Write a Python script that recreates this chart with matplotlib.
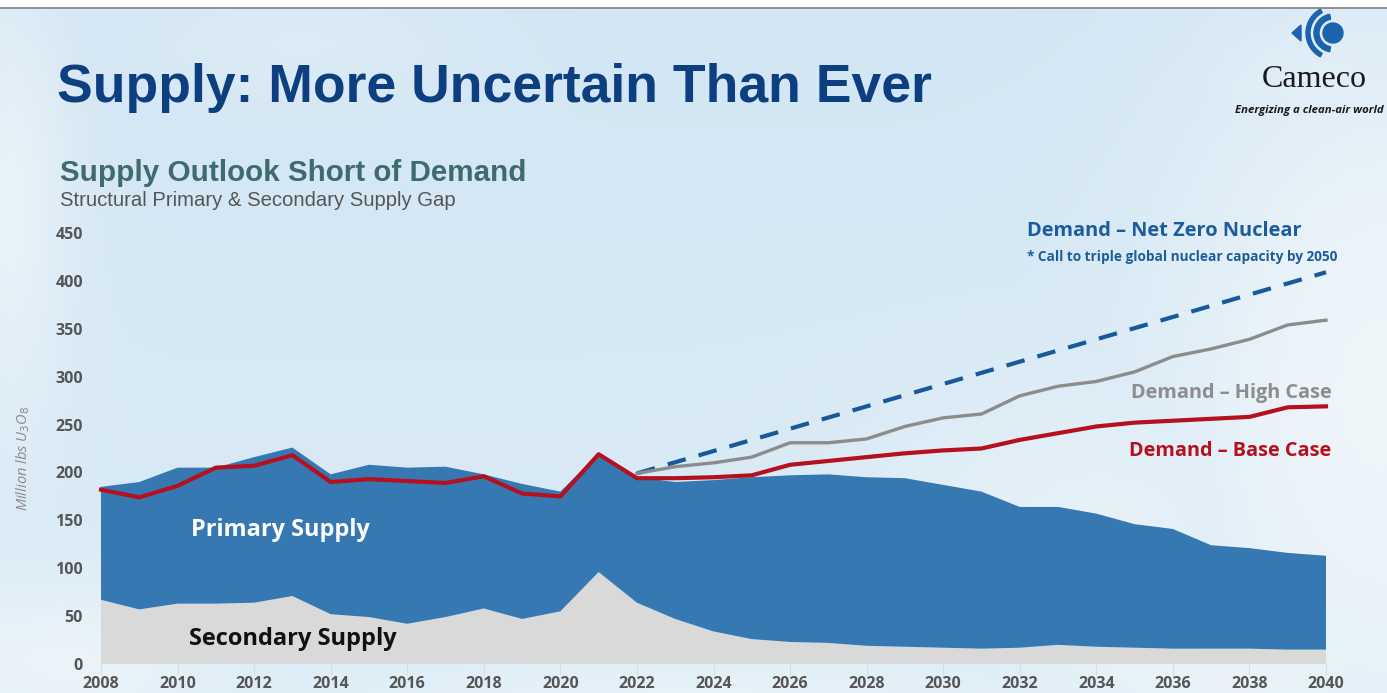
import numpy as np
import matplotlib
matplotlib.use('Agg')
import matplotlib.pyplot as plt
from matplotlib.patches import Circle, Wedge, Polygon, Rectangle

# Uranium market balance, million lbs U3O8
years = list(range(2008, 2041))
secondary_supply = [67, 57, 63, 63, 64, 71, 52, 49, 42, 49, 58, 47, 55, 96, 64, 47, 34,
                    26, 23, 22, 19, 18, 17, 16, 17, 20, 18, 17, 16, 16, 16, 15, 15]
primary_supply = [118, 133, 142, 142, 152, 155, 146, 159, 163, 157, 140, 141, 125, 124, 131, 143, 158,
                  169, 174, 176, 176, 176, 170, 164, 147, 144, 139, 129, 125, 108, 105, 101, 98]
demand_base = [182, 174, 186, 205, 207, 218, 190, 193, 191, 189, 196, 178, 175, 219, 194, 194, 195,
               197, 208, 212, 216, 220, 223, 225, 234, 241, 248, 252, 254, 256, 258, 268, 269]

high_years = list(range(2022, 2041))
demand_high = [199, 206, 210, 216, 231, 231, 235, 248, 257, 261, 280, 290, 295, 305, 321, 329, 339, 354, 359]

netzero_years = [2022, 2040]
demand_netzero = [199, 409]

x_ticks = list(range(2008, 2041, 2))
y_ticks = list(range(0, 451, 50))

W, H = 1387, 693
fig = plt.figure(figsize=(W / 100, H / 100), dpi=100)

# sky backdrop
bg = fig.add_axes([0, 0, 1, 1], zorder=0)
bg.set_xlim(0, W)
bg.set_ylim(H, 0)
bg.axis('off')

yy, xx = np.mgrid[0:H, 0:W]
top = np.array([0.825, 0.902, 0.955])
bottom = np.array([0.860, 0.925, 0.965])
t = (yy / H)[..., None]
img = top * (1 - t) + bottom * t
haze = np.zeros((H, W))
for cx, cy, sx, sy, a in [(1380, 380, 150, 260, 0.8), (1230, 640, 160, 90, 0.6),
                          (1100, 520, 160, 110, 0.45), (10, 200, 45, 160, 0.6),
                          (60, 660, 120, 60, 0.6), (700, 700, 260, 40, 0.45),
                          (1330, 90, 110, 70, 0.45), (300, 40, 120, 50, 0.25)]:
    haze = np.maximum(haze, a * np.exp(-((xx - cx) ** 2 / (2 * sx ** 2) + (yy - cy) ** 2 / (2 * sy ** 2))))
img = img * (1 - haze[..., None]) + np.array([0.96, 0.975, 0.985]) * haze[..., None]
bg.imshow(img, extent=(0, W, H, 0), aspect='auto', zorder=0)

# header strip
bg.add_patch(Rectangle((0, 0), W, 8, color='white', zorder=1))
bg.plot([0, W], [8, 8], color='#7a7a7a', lw=1.2, zorder=2)

bg.text(57, 102, 'Supply: More Uncertain Than Ever', family='Liberation Sans', weight='bold',
        fontsize=38.5, color='#0d3f80', va='baseline', ha='left')
bg.text(60, 181, 'Supply Outlook Short of Demand', family='Liberation Sans', weight='bold',
        fontsize=21.3, color='#3f6a6e', va='baseline', ha='left')
bg.text(60, 206, 'Structural Primary & Secondary Supply Gap', family='Liberation Sans',
        fontsize=14.6, color='#555555', va='baseline', ha='left')

# company mark
logo_blue = '#1b64ad'
bg.add_patch(Circle((1333, 33), 10, color=logo_blue, zorder=3))
bg.add_patch(Wedge((1333, 33), 19, 100, 260, width=5, color=logo_blue, zorder=3))
bg.add_patch(Wedge((1333, 33), 27, 118, 242, width=4, color=logo_blue, zorder=3))
bg.add_patch(Polygon([[1292, 33], [1301, 25], [1301, 41]], closed=True, color=logo_blue, zorder=3))
bg.text(1314, 87, 'Cameco', family='Liberation Serif', fontsize=23, color='#1a1a1a',
        ha='center', va='baseline')
bg.text(1235, 113, 'Energizing a clean-air world', family='Open Sans', weight='bold',
        style='italic', fontsize=8.2, color='#1a1a1a', ha='left', va='baseline')

# chart area
ax = fig.add_axes([101 / W, (H - 664) / H, (1326 - 101) / W, (664 - 233) / H], zorder=1)
ax.set_facecolor('none')
ax.set_xlim(2008, 2040)
ax.set_ylim(0, 450)

ax.stackplot(years, secondary_supply, primary_supply, colors=['#d9d9d9', '#3679b2'],
             linewidth=0, zorder=2)
ax.plot(netzero_years, demand_netzero, color='#17599a', lw=3, dashes=(4.5, 3.2),
        solid_capstyle='butt', zorder=3, clip_on=False)
ax.plot(high_years, demand_high, color='#8c8c8c', lw=2.4, zorder=4, clip_on=False)
ax.plot(years, demand_base, color='#b5101e', lw=3, zorder=5, clip_on=False)

for s in ax.spines.values():
    s.set_visible(False)
ax.set_xticks(x_ticks)
ax.set_yticks(y_ticks)
ax.tick_params(axis='y', length=0, pad=13)
ax.tick_params(axis='x', length=8, width=0.8, color='#d3dde4', pad=1)
for lab in ax.get_xticklabels() + ax.get_yticklabels():
    lab.set_family('Open Sans')
    lab.set_weight('bold')
    lab.set_fontsize(11.5)
    lab.set_color('#555555')

ax.set_ylabel('Million lbs U$_3$O$_8$', family=['Open Sans', 'DejaVu Sans'], style='italic',
              fontsize=10.5, color='#8a8a8a')
ax.yaxis.set_label_coords(-0.0563, 0.478)

label_font = dict(family='Open Sans', weight='bold')
ax.text(2012.7, 133.5, 'Primary Supply', color='white', fontsize=16.9, ha='center',
        va='baseline', zorder=6, **label_font)
ax.text(2013.0, 20, 'Secondary Supply', color='#111111', fontsize=17, ha='center',
        va='baseline', zorder=6, **label_font)
ax.text(2032.2, 447, 'Demand \u2013 Net Zero Nuclear', color='#1d5c9c', fontsize=14.4,
        ha='left', va='baseline', **label_font)
ax.text(2032.2, 421, '* Call to triple global nuclear capacity by 2050', color='#1d5c9c',
        fontsize=9.8, ha='left', va='baseline', **label_font)
ax.text(2040.15, 277.5, 'Demand \u2013 High Case', color='#8d8d8d', fontsize=14.3,
        ha='right', va='baseline', **label_font)
ax.text(2040.15, 217, 'Demand \u2013 Base Case', color='#b5101e', fontsize=14.3,
        ha='right', va='baseline', **label_font)

fig.savefig('out.png', dpi=100)
